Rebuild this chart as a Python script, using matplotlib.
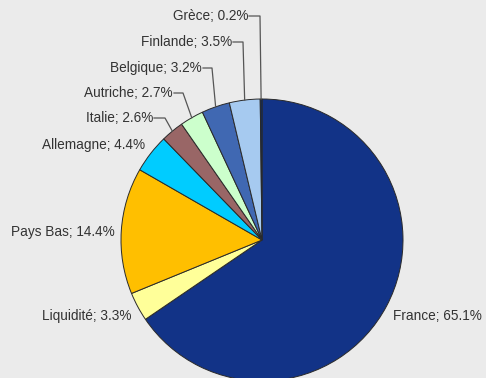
import numpy as np
import matplotlib.pyplot as plt

# portfolio split by country
labels = ["France", "Liquidité", "Pays Bas", "Allemagne", "Italie",
          "Autriche", "Belgique", "Finlande", "Grèce"]
shares = [65.1, 3.3, 14.4, 4.4, 2.6, 2.7, 3.2, 3.5, 0.2]
colors = ["#123387", "#ffff99", "#ffbf00", "#00ccff", "#996666",
          "#ccffcc", "#4068b2", "#a6caf0", "#0b2a66"]

W, H = 486, 378
fig = plt.figure(figsize=(W / 100, H / 100), dpi=100)
fig.patch.set_facecolor("#ebebeb")
ax = fig.add_axes([0, 0, 1, 1])
ax.set_xlim(0, W)
ax.set_ylim(0, H)
ax.set_aspect("equal")
ax.axis("off")

cx, cy, r = 262, H - 240, 141
wedges, _ = ax.pie(shares, colors=colors, startangle=90, counterclock=False,
                   center=(cx, cy), radius=r,
                   wedgeprops=dict(edgecolor="#2a2a2a", linewidth=0.7))
ax.set_xlim(0, W)
ax.set_ylim(0, H)

# label layout in pixels from top-left: (x, y, align, elbow_x or None)
layout = {
    "France": (393, 316, "left", None),
    "Liquidité": (131, 316, "right", None),
    "Pays Bas": (115, 232, "right", None),
    "Allemagne": (145, 145, "right", None),
    "Italie": (153, 118, "right", 165),
    "Autriche": (173, 93, "right", 183),
    "Belgique": (202, 68, "right", 212),
    "Finlande": (232, 42, "right", 243),
    "Grèce": (248, 16, "right", 260),
}

for w, name, val in zip(wedges, labels, shares):
    mid = np.deg2rad((w.theta1 + w.theta2) / 2)
    ax_x = cx + r * np.cos(mid)
    ax_y = cy + r * np.sin(mid)
    tx, ty, ha, elbow = layout[name]
    ty = H - ty
    if elbow is not None:
        ax.plot([tx + 1, elbow, ax_x], [ty, ty, ax_y], color="#555555", lw=0.9)
    ax.text(tx, ty, f"{name}; {val}%", ha=ha, va="center", fontsize=9.8,
            family="Liberation Sans", color="#333333")

fig.savefig("out.png", dpi=100, facecolor=fig.get_facecolor())
